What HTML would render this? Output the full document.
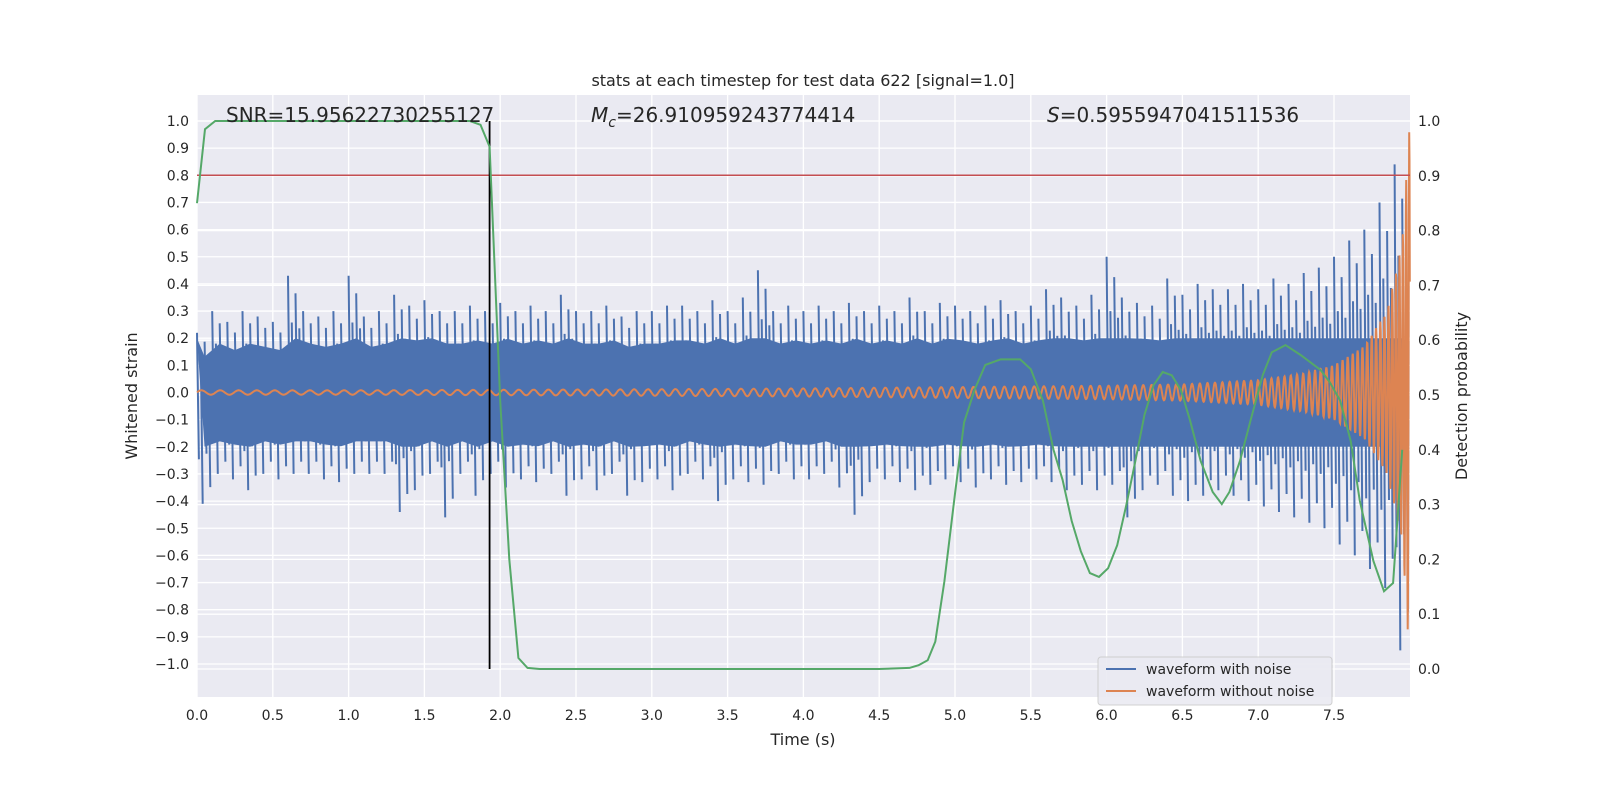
<!DOCTYPE html>
<html><head><meta charset="utf-8"><style>
body{margin:0;background:#fff;}
svg text{font-family:"DejaVu Sans","Liberation Sans",sans-serif;}
</style></head><body>
<svg id="chart" width="1600" height="800" xmlns="http://www.w3.org/2000/svg">
<rect x="0" y="0" width="1600" height="800" fill="#fff"/>
<rect x="197" y="95" width="1213" height="602" fill="#eaeaf2"/>
<g id="grid"></g><g id="series"></g><g id="axes"></g>
<text x="803" y="86" font-size="16" text-anchor="middle" fill="#262626">stats at each timestep for test data 622 [signal=1.0]</text>
<text x="226" y="122" font-size="20" fill="#262626">SNR=15.95622730255127</text>
<text x="591" y="122" font-size="20" fill="#262626"><tspan font-style="italic">M</tspan><tspan font-style="italic" font-size="14" dy="5">c</tspan><tspan dy="-5">=26.910959243774414</tspan></text>
<text x="1047" y="122" font-size="20" fill="#262626"><tspan font-style="italic">S</tspan>=0.5955947041511536</text>
<text x="803" y="745" font-size="16" text-anchor="middle" fill="#262626">Time (s)</text>
<text transform="translate(137,396) rotate(-90)" font-size="16" text-anchor="middle" fill="#262626">Whitened strain</text>
<text transform="translate(1467,396) rotate(-90)" font-size="16" text-anchor="middle" fill="#262626">Detection probability</text>
<g>
<rect x="1098" y="657" width="234" height="48" rx="3" fill="#eaeaf2" stroke="#cccccc" opacity="0.9"/>
<line x1="1106" y1="669" x2="1136" y2="669" stroke="#4c72b0" stroke-width="2"/>
<text x="1146" y="674" font-size="14" fill="#262626">waveform with noise</text>
<line x1="1106" y1="691" x2="1136" y2="691" stroke="#dd8452" stroke-width="2"/>
<text x="1146" y="696" font-size="14" fill="#262626">waveform without noise</text>
</g>
</svg>
<script>
const noiseMax=[0.22,0.3,0.26,0.3,0.28,0.26,0.43,0.3,0.28,0.3,0.43,0.28,0.3,0.36,0.32,0.34,0.3,0.3,0.32,0.3,0.33,0.3,0.32,0.3,0.36,0.3,0.3,0.32,0.28,0.3,0.3,0.32,0.32,0.3,0.34,0.3,0.35,0.45,0.3,0.32,0.3,0.32,0.3,0.33,0.3,0.32,0.3,0.35,0.3,0.33,0.32,0.3,0.32,0.34,0.3,0.32,0.38,0.35,0.32,0.36,0.5,0.35,0.33,0.32,0.42,0.36,0.4,0.38,0.38,0.4,0.38,0.42,0.4,0.44,0.46,0.5,0.56,0.6,0.7,0.84];
const noiseMin=[-0.41,-0.3,-0.32,-0.36,-0.3,-0.32,-0.3,-0.3,-0.32,-0.33,-0.3,-0.3,-0.3,-0.44,-0.36,-0.3,-0.46,-0.3,-0.38,-0.3,-0.35,-0.32,-0.33,-0.3,-0.38,-0.32,-0.36,-0.3,-0.38,-0.33,-0.32,-0.36,-0.3,-0.32,-0.4,-0.32,-0.33,-0.34,-0.3,-0.32,-0.32,-0.3,-0.35,-0.45,-0.33,-0.32,-0.33,-0.36,-0.34,-0.32,-0.33,-0.35,-0.32,-0.34,-0.33,-0.32,-0.33,-0.36,-0.34,-0.36,-0.34,-0.46,-0.36,-0.34,-0.38,-0.4,-0.38,-0.36,-0.38,-0.4,-0.42,-0.44,-0.46,-0.48,-0.5,-0.56,-0.6,-0.65,-0.72,-0.95];
const chirpT=[0,1,2,3,4,5,6,6.5,7,7.3,7.5,7.7,7.85,7.95,8.0];
const chirpAmp=[0.008,0.008,0.01,0.012,0.015,0.02,0.025,0.03,0.045,0.07,0.1,0.17,0.3,0.55,1.0];
const chirpFreq=[8,9,10,11,12.5,14,17,19,22,25,28,32,38,45,50];
const probT=[0,0.053,0.12,1.8,1.87,1.93,2.0,2.06,2.12,2.18,2.26,4.5,4.7,4.76,4.82,4.87,4.93,5.0,5.06,5.13,5.2,5.3,5.43,5.5,5.58,5.65,5.71,5.77,5.83,5.89,5.95,6.01,6.07,6.13,6.19,6.25,6.31,6.37,6.43,6.49,6.55,6.62,6.7,6.76,6.81,6.88,6.95,7.03,7.09,7.18,7.28,7.41,7.47,7.54,7.61,7.67,7.76,7.83,7.89,7.95];
const probV=[0.85,0.985,1.0,1.0,0.993,0.953,0.49,0.2,0.02,0.002,0,0,0.002,0.007,0.016,0.05,0.16,0.32,0.45,0.51,0.555,0.565,0.565,0.547,0.49,0.40,0.345,0.27,0.215,0.175,0.168,0.184,0.226,0.299,0.38,0.464,0.518,0.542,0.536,0.509,0.454,0.38,0.323,0.301,0.323,0.38,0.454,0.536,0.578,0.591,0.573,0.546,0.524,0.49,0.416,0.307,0.197,0.142,0.157,0.4];
const xTicks=[0,0.5,1,1.5,2,2.5,3,3.5,4,4.5,5,5.5,6,6.5,7,7.5];
const yTicks=[-1,-0.9,-0.8,-0.7,-0.6,-0.5,-0.4,-0.3,-0.2,-0.1,0,0.1,0.2,0.3,0.4,0.5,0.6,0.7,0.8,0.9,1];
const y2Ticks=[0,0.1,0.2,0.3,0.4,0.5,0.6,0.7,0.8,0.9,1];
const threshold=0.8, markerT=1.93;

const NS="http://www.w3.org/2000/svg";
const X=t=>197+t*151.6, Y=v=>392.5-v*271.5, Y2=p=>669-p*548;
function mk(tag,attrs,parent){const e=document.createElementNS(NS,tag);for(const k in attrs)e.setAttribute(k,attrs[k]);parent.appendChild(e);return e;}
const grid=document.getElementById('grid'),ser=document.getElementById('series'),ax=document.getElementById('axes');
xTicks.forEach(t=>{const l=mk('line',{x1:X(t),x2:X(t),y1:95,y2:697,stroke:'#fff','stroke-width':1.3},grid);

const tx=mk('text',{x:X(t),y:720,'font-size':14,'text-anchor':'middle',fill:'#262626'},ax);tx.textContent=t.toFixed(1);
});
yTicks.forEach(v=>{const l=mk('line',{x1:197,x2:1410,y1:Y(v),y2:Y(v),stroke:'#fff','stroke-width':1.3},grid);

const tx=mk('text',{x:189,y:Y(v)+5,'font-size':14,'text-anchor':'end',fill:'#262626'},ax);tx.textContent=(v<0?'\u22121.0'.slice(0,1)+Math.abs(v).toFixed(1):v.toFixed(1));
});
y2Ticks.forEach(p=>{const l=mk('line',{x1:197,x2:1410,y1:Y2(p),y2:Y2(p),stroke:'#fff','stroke-width':1.3},grid);

const tx=mk('text',{x:1418,y:Y2(p)+5,'font-size':14,fill:'#262626'},ax);tx.textContent=p.toFixed(1);
});
// noise
let d='';const n=noiseMax.length,bw=8/n;
for(let i=0;i<n;i++){const t0=i*bw;
 for(let k=0;k<4;k++){const t=t0+k*bw/4,f=[1,0.6,0.85,0.55][k];
  d+=`M${X(t).toFixed(1)},${Y(noiseMax[i]*f).toFixed(1)}L${X(t+bw/8).toFixed(1)},${Y(noiseMin[(i+k)%n===i?i:i]*[0.6,1,0.55,0.85][k]).toFixed(1)}`;}}
const nb=mk('path',{d:d,stroke:'#4c72b0','stroke-width':2,fill:'none'},ser);

let band='M'+X(0)+','+Y(0.2);for(let i=0;i<n;i++)band+=`L${X((i+0.5)*bw)},${Y(Math.min(0.2,noiseMax[i]*0.6))}`;
for(let i=n-1;i>=0;i--)band+=`L${X((i+0.5)*bw)},${Y(Math.max(-0.2,noiseMin[i]*0.6))}`;band+='Z';
const bp=mk('path',{d:band,fill:'#4c72b0'},ser);
// chirp
function interp(ts,vs,t){for(let i=1;i<ts.length;i++)if(t<=ts[i]){const f=(t-ts[i-1])/(ts[i]-ts[i-1]);return vs[i-1]+f*(vs[i]-vs[i-1]);}return vs[vs.length-1];}
let ph=0,cd='',dt=0.002;for(let t=0;t<=8;t+=dt){ph+=2*Math.PI*interp(chirpT,chirpFreq,t)*dt;const v=interp(chirpT,chirpAmp,t)*Math.sin(ph);cd+=(t===0?'M':'L')+X(t).toFixed(1)+','+Y(v).toFixed(1);}
const cp=mk('path',{d:cd,stroke:'#dd8452','stroke-width':2,fill:'none'},ser);
// threshold & marker
const th=mk('line',{x1:197,x2:1410,y1:Y(threshold),y2:Y(threshold),stroke:'#c44e52','stroke-width':1.5},ser);

const mv=mk('line',{x1:X(markerT),x2:X(markerT),y1:Y2(1),y2:Y2(0),stroke:'#000','stroke-width':1.8},ser);

// probability
const pd=probT.map((t,i)=>(i?'L':'M')+X(t).toFixed(1)+','+Y2(probV[i]).toFixed(1)).join('');
const pp=mk('path',{d:pd,stroke:'#55a868','stroke-width':2,fill:'none'},ser);
</script>
</body></html>
